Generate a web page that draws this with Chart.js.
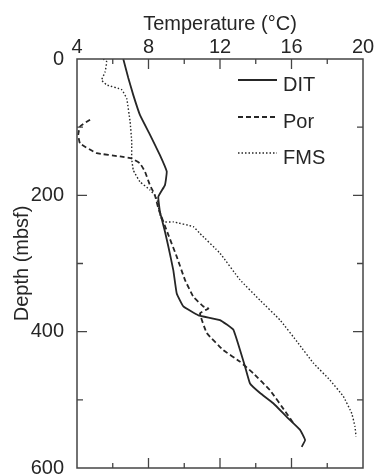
<!DOCTYPE html>
<html>
<head>
<meta charset="utf-8">
<script src="https://cdn.jsdelivr.net/npm/chart.js@4"></script>
<style>
html, body { margin: 0; padding: 0; background: #fff; }
canvas { display: block; }
</style>
</head>
<body>
<canvas id="myChart" width="376" height="476" style="width:376px;height:476px"></canvas>
<script>
// values: depth (mbsf) and temperature (deg C)
var ditDepth = [0, 28, 53, 82, 111, 141, 165, 185, 202, 224, 253, 275, 310, 344, 363, 376, 383, 397, 427, 451, 476, 490, 505, 525, 544, 559, 569];
var ditTemp  = [6.59, 6.87, 7.15, 7.52, 8.08, 8.64, 9.02, 8.92, 8.55, 8.64, 8.92, 9.11, 9.39, 9.58, 9.95, 10.79, 12.0, 12.74, 13.12, 13.4, 13.68, 14.24, 14.98, 15.73, 16.48, 16.76, 16.57];

var porDepth = [89, 99, 111, 124, 138, 143, 146, 153, 165, 185, 200, 219, 258, 290, 324, 349, 363, 366, 373, 402, 427, 444, 461, 486, 520, 534];
var porTemp  = [4.73, 4.17, 4.07, 4.17, 5.1, 6.41, 7.06, 7.52, 7.8, 8.08, 8.36, 8.55, 9.11, 9.58, 10.04, 10.51, 11.07, 11.35, 10.88, 11.26, 12.18, 13.12, 13.86, 14.8, 15.73, 16.1];

var fmsDepth = [0, 4, 19, 31, 38, 45, 58, 92, 121, 146, 163, 180, 192, 204, 229, 239, 239, 246, 256, 285, 324, 354, 383, 417, 446, 471, 495, 520, 539, 554];
var fmsTemp  = [5.47, 5.66, 5.57, 5.38, 5.66, 6.5, 6.78, 6.97, 7.06, 7.06, 7.15, 7.52, 8.08, 8.46, 8.64, 8.83, 9.39, 10.51, 10.88, 12.0, 13.12, 14.24, 15.36, 16.38, 17.22, 18.15, 18.9, 19.37, 19.55, 19.61];

var seriesNames = ['DIT', 'Por', 'FMS'];
var xMajor = [8, 12, 16];
var xMinor = [6, 10, 14, 18];
var yMajor = [200, 400];
var yMinor = [100, 300, 500];

var ink = '#262626';
var fontFamily = '"Liberation Sans", Arial, Helvetica, sans-serif';
var fontSize = 20;

function toPoints(temp, depth) {
  return temp.map(function (t, i) { return { x: t, y: depth[i] }; });
}

var dashes = [[], [5, 3], [1.5, 2]];
var widths = [1.8, 1.8, 1.4];

// frame, inward ticks and the small legend inside the plot
var framePlugin = {
  id: 'frame',
  afterDatasetsDraw: function (chart) {
    var ctx = chart.ctx;
    var a = chart.chartArea;
    var xs = chart.scales.x, ys = chart.scales.y;
    ctx.save();
    ctx.strokeStyle = '#444';
    ctx.lineWidth = 1.5;
    ctx.strokeRect(a.left, a.top, a.right - a.left, a.bottom - a.top);
    ctx.lineWidth = 1.3;
    function xt(vals, len) {
      vals.forEach(function (v) {
        var px = xs.getPixelForValue(v);
        ctx.beginPath();
        ctx.moveTo(px, a.top); ctx.lineTo(px, a.top + len);
        ctx.moveTo(px, a.bottom); ctx.lineTo(px, a.bottom - len);
        ctx.stroke();
      });
    }
    function yt(vals, len) {
      vals.forEach(function (v) {
        var py = ys.getPixelForValue(v);
        ctx.beginPath();
        ctx.moveTo(a.left, py); ctx.lineTo(a.left + len, py);
        ctx.moveTo(a.right, py); ctx.lineTo(a.right - len, py);
        ctx.stroke();
      });
    }
    xt(xMajor, 10); xt(xMinor, 5);
    yt(yMajor, 10); yt(yMinor, 6);

    // legend
    var ly = [80, 117, 153];
    ctx.font = fontSize + 'px ' + fontFamily;
    ctx.textBaseline = 'middle';
    ctx.fillStyle = ink;
    ctx.strokeStyle = ink;
    chart.data.datasets.forEach(function (ds, i) {
      ctx.beginPath();
      ctx.setLineDash(dashes[i]);
      ctx.lineWidth = widths[i];
      ctx.moveTo(238, ly[i]); ctx.lineTo(277, ly[i]);
      ctx.stroke();
      ctx.setLineDash([]);
      ctx.fillText(ds.label, 283, ly[i] + 5);
    });
    ctx.restore();
  }
};

function drawChart() {
  var ctx = document.getElementById('myChart').getContext('2d');
  var sets = [[ditTemp, ditDepth], [porTemp, porDepth], [fmsTemp, fmsDepth]];
  new Chart(ctx, {
    type: 'scatter',
    data: {
      datasets: sets.map(function (s, i) {
        return {
          label: seriesNames[i],
          data: toPoints(s[0], s[1]),
          showLine: true,
          borderColor: ink,
          borderWidth: widths[i],
          borderDash: dashes[i],
          pointRadius: 0,
          tension: 0.1,
          fill: false
        };
      })
    },
    options: {
      responsive: false,
      animation: false,
      devicePixelRatio: 1,
      layout: { padding: { left: 0, right: 13, top: 0, bottom: 8 } },
      plugins: { legend: { display: false }, tooltip: { enabled: false } },
      scales: {
        x: {
          type: 'linear',
          position: 'top',
          min: 4, max: 20,
          ticks: { stepSize: 4, color: ink, padding: -8, font: { family: fontFamily, size: fontSize } },
          grid: { display: false },
          border: { display: false },
          title: { display: true, text: 'Temperature (°C)', color: ink, padding: { top: 12, bottom: 0 }, font: { family: fontFamily, size: fontSize } },
          afterFit: function (s) { s.height = 59; s.paddingLeft = 0; s.paddingRight = 0; }
        },
        y: {
          type: 'linear',
          reverse: true,
          min: 0, max: 600,
          ticks: { stepSize: 200, color: ink, padding: 5, font: { family: fontFamily, size: fontSize } },
          grid: { display: false },
          border: { display: false },
          title: { display: true, text: 'Depth (mbsf)', color: ink, padding: { top: 10, bottom: 0 }, font: { family: fontFamily, size: fontSize } },
          afterFit: function (s) { s.width = 77; s.paddingTop = 0; s.paddingBottom = 0; }
        }
      }
    },
    plugins: [framePlugin]
  });
}

document.addEventListener('DOMContentLoaded', drawChart);
</script>
</body>
</html>
